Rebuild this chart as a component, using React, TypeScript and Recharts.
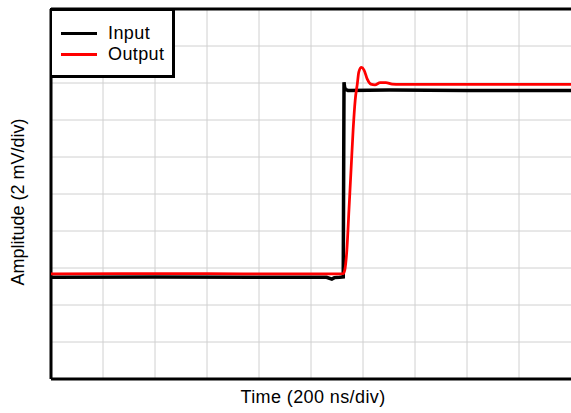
import { Line, LineChart, ReferenceLine, XAxis, YAxis } from "recharts";

// time in divisions (200 ns/div), amplitude in divisions (2 mV/div)
const gridTicks = [1, 2, 3, 4, 5, 6, 7, 8, 9];

const inputTime = [0, 2, 4, 5.3, 5.4, 5.45, 5.55, 5.62, 5.635, 5.645, 5.66, 5.71, 6.5, 8, 10];
const inputAmp = [2.75, 2.76, 2.75, 2.75, 2.7, 2.74, 2.75, 2.76, 8.02, 7.9, 7.83, 7.8, 7.81, 7.8, 7.8];

const outputTime = [
  0, 2, 4, 5.5, 5.62, 5.65, 5.69, 5.73, 5.77, 5.81, 5.85, 5.89, 5.92, 5.97, 6.02, 6.08, 6.15,
  6.23, 6.33, 6.44, 6.56, 6.71, 8, 10,
];
const outputAmp = [
  2.84, 2.85, 2.84, 2.84, 2.85, 2.95, 3.49, 4.57, 5.65, 6.73, 7.54, 7.97, 8.3, 8.42, 8.35, 8.11,
  7.97, 7.95, 8.01, 8.01, 7.97, 7.96, 7.96, 7.96,
];

const inputData = inputTime.map((t, i) => ({ t, v: inputAmp[i] }));
const outputData = outputTime.map((t, i) => ({ t, v: outputAmp[i] }));

const font = '"Liberation Sans", Arial, sans-serif';

export default function App() {
  return (
    <div style={{ position: "absolute", left: 0, top: 0, width: 571, height: 413, background: "#fff", fontFamily: font }}>
      <LineChart width={571} height={413} margin={{ top: 9, right: 0, left: 51, bottom: 34 }}>
        <XAxis
          type="number"
          dataKey="t"
          domain={[0, 10]}
          tick={false}
          tickLine={false}
          height={0}
          axisLine={false}
        />
        <YAxis
          type="number"
          dataKey="v"
          domain={[0, 10]}
          tick={false}
          tickLine={false}
          width={0}
          axisLine={false}
        />
        {gridTicks.map((g) => (
          <ReferenceLine key={`gx${g}`} x={g} stroke="#d0d0d0" strokeWidth={1} />
        ))}
        {gridTicks.map((g) => (
          <ReferenceLine key={`gy${g}`} y={g} stroke="#d0d0d0" strokeWidth={1} />
        ))}
        <ReferenceLine y={10} stroke="#000" strokeWidth={3} />
        <ReferenceLine y={0} stroke="#000" strokeWidth={3} />
        <ReferenceLine x={0} stroke="#000" strokeWidth={3} />
        <Line
          data={inputData}
          dataKey="v"
          type="linear"
          stroke="#000"
          strokeWidth={3.5}
          dot={false}
          isAnimationActive={false}
        />
        <Line
          data={outputData}
          dataKey="v"
          type="monotone"
          stroke="#ff0000"
          strokeWidth={2.75}
          dot={false}
          isAnimationActive={false}
        />
      </LineChart>
      <div
        style={{
          position: "absolute",
          left: 50,
          top: 8,
          width: 120,
          height: 64,
          border: "3px solid #000",
          borderLeftWidth: 2,
          background: "#fff",
          boxSizing: "content-box",
          fontSize: 18,
          letterSpacing: 0.4,
        }}
      >
        {[
          { name: "Input", color: "#000" },
          { name: "Output", color: "#ff0000" },
        ].map((item, i) => (
          <div key={item.name} style={{ position: "absolute", left: 9, top: 11 + i * 21, height: 22, display: "flex", alignItems: "center" }}>
            <span style={{ display: "inline-block", width: 36, height: 3, background: item.color }} />
            <span style={{ marginLeft: 11, lineHeight: "22px" }}>{item.name}</span>
          </div>
        ))}
      </div>
      <div
        style={{
          position: "absolute",
          left: 53,
          width: 520,
          top: 386,
          textAlign: "center",
          fontSize: 18,
          letterSpacing: 0.4,
          lineHeight: "22px",
        }}
      >
        Time (200 ns/div)
      </div>
      <div
        style={{
          position: "absolute",
          left: 18,
          top: 202,
          transform: "translate(-50%, -50%) rotate(-90deg)",
          whiteSpace: "nowrap",
          fontSize: 18,
          lineHeight: "22px",
        }}
      >
        Amplitude (2 mV/div)
      </div>
    </div>
  );
}
